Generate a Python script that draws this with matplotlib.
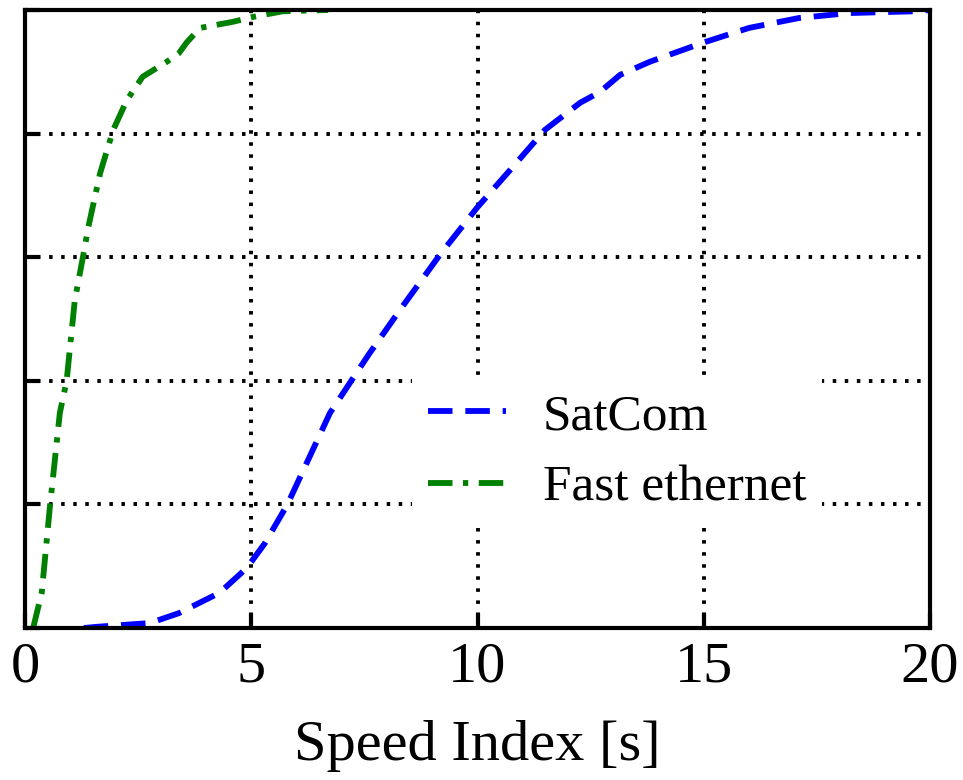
import matplotlib
matplotlib.use("Agg")
import matplotlib.pyplot as plt

# CDF of page load speed index for the two access links
satcom_x = [1.3, 1.6, 2.76, 3.4, 4.3, 4.9, 5.3, 5.8, 6.74, 7.6, 8.29, 9.17,
            10.0, 10.72, 11.49, 12.27, 12.7, 13.15, 13.8, 14.98, 16.0, 17.1,
            18.2, 19.7, 20.0]
satcom_y = [0.0, 0.002, 0.008, 0.024, 0.057, 0.097, 0.137, 0.2, 0.348, 0.443,
            0.515, 0.604, 0.681, 0.741, 0.806, 0.85, 0.867, 0.895, 0.916,
            0.947, 0.971, 0.987, 0.995, 0.998, 1.0]

eth_x = [0.18, 0.37, 0.55, 0.77, 0.92, 1.1, 1.28, 1.4, 1.66, 1.95, 2.25,
         2.6, 3.13, 3.4, 3.58, 3.87, 4.6, 5.05, 5.7, 6.7]
eth_y = [0.0, 0.057, 0.196, 0.348, 0.4, 0.53, 0.6, 0.649, 0.736, 0.806,
         0.854, 0.892, 0.916, 0.93, 0.948, 0.971, 0.981, 0.989, 0.998, 1.0]

x_ticks = [0, 5, 10, 15, 20]
y_ticks = [0.0, 0.2, 0.4, 0.6, 0.8, 1.0]

plt.rcParams['font.family'] = ['Liberation Serif', 'DejaVu Serif']

fig = plt.figure(figsize=(9.63, 7.8), dpi=100)
ax = fig.add_axes([25 / 963, 1 - 628 / 780, 905 / 963, 618 / 780])

ax.plot(satcom_x, satcom_y, color='#0000ff', lw=4.2, dashes=(4.2, 2.2),
        label='SatCom')
ax.plot(eth_x, eth_y, color='#008000', lw=4.2, dashes=(4.2, 1.8, 0.9, 1.8),
        label='Fast ethernet')

ax.set_xlim(0, 20)
ax.set_ylim(0, 1)
ax.set_xticks(x_ticks)
ax.set_yticks(y_ticks)
ax.set_yticklabels([])
ax.grid(True, color='black', lw=2.8, linestyle=(0, (0.9, 2.2)))
ax.tick_params(direction='in', length=11, width=3, labelsize=42, pad=10)
ax.tick_params(axis='y', left=True, right=False)
ax.tick_params(axis='x', top=False)
for s in ax.spines.values():
    s.set_linewidth(3)

ax.set_xlabel('Speed Index [s]', fontsize=42, labelpad=19)

leg = ax.legend(loc='upper left', bbox_to_anchor=(0.428, 0.405),
                borderaxespad=0, fontsize=37, frameon=True, fancybox=False,
                framealpha=1, edgecolor='none', handlelength=1.52,
                handletextpad=0.72, labelspacing=0.48, borderpad=0.3)

fig.savefig('out.png', dpi=100)
